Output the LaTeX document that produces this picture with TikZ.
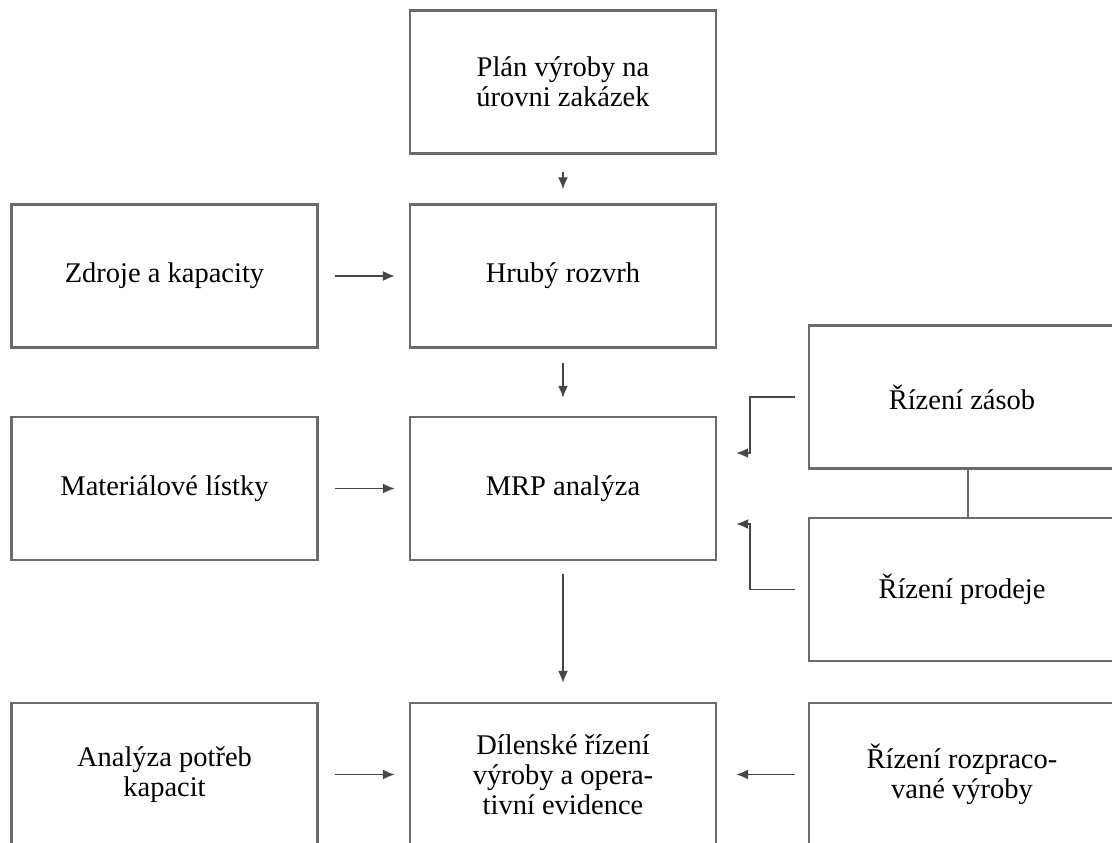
\documentclass[tikz,border=0pt]{standalone}
\usepackage{fontspec}
\setmainfont{Liberation Serif}
\usetikzlibrary{arrows.meta,calc}
\begin{document}
\begin{tikzpicture}[x=1pt,y=-1pt,
  box/.style={draw=black!58, line width=2.2pt, rectangle, minimum width=306pt,
    minimum height=143pt, inner sep=0pt, align=center,
    font=\fontsize{28.5}{30}\selectfont},
  arr/.style={draw=black!72, line width=1.9pt, -{Latex[length=12pt,width=10pt]}},
  link/.style={draw=black!58, line width=2.2pt}]
  \clip (0,0) rectangle (1112,843);
  \fill[white] (0,0) rectangle (1112,843);

  % boxes of the planning chain
  \node[box] (plan)  at (563,82)    {Plán výroby na\\úrovni zakázek};
  \node[box] (zdroj) at (164.5,276) {Zdroje a kapacity};
  \node[box] (hruby) at (563,276)   {Hrubý rozvrh};
  \node[box] (mat)   at (164.5,488.5) {Materiálové lístky};
  \node[box] (mrp)   at (563,488.5) {MRP analýza};
  \node[box] (zasob) at (962,397)   {Řízení zásob};
  \node[box] (prod)  at (962,589.5) {Řízení prodeje};
  \node[box] (anal)  at (164.5,774.5) {Analýza potřeb\\kapacit};
  \node[box] (dil)   at (563,774.5) {Dílenské řízení\\výroby a opera-\\tivní evidence};
  \node[box] (rozp)  at (962,774.5) {Řízení rozpraco-\\vané výroby};

  % vertical flow
  \draw[arr, shorten <=17pt, shorten >=14pt] (plan.south) -- (hruby.north);
  \draw[arr, shorten <=14pt, shorten >=18pt] (hruby.south) -- (mrp.north);
  \draw[arr, shorten <=13pt, shorten >=19pt] (mrp.south) -- (dil.north);

  % inputs from the left
  \draw[arr, shorten <=16pt, shorten >=14pt] (zdroj.east) -- (hruby.west);
  \draw[arr, shorten <=16pt, shorten >=14pt] (mat.east) -- (mrp.west);
  \draw[arr, shorten <=16pt, shorten >=14pt] (anal.east) -- (dil.west);

  % inputs from the right
  \draw[arr, shorten <=13pt, shorten >=19pt] (rozp.west) -- (dil.east);
  \draw[arr, shorten <=13pt, shorten >=19pt]
    (zasob.west) -| ($(mrp.east)+(33,-35.5)$) -- ($(mrp.east)+(0,-35.5)$);
  \draw[arr, shorten <=13pt, shorten >=19pt]
    (prod.west) -| ($(mrp.east)+(33,35.5)$) -- ($(mrp.east)+(0,35.5)$);

  % link between inventory and sales control
  \draw[link] ($(zasob.south)+(6,0)$) -- ($(prod.north)+(6,0)$);
\end{tikzpicture}
\end{document}
